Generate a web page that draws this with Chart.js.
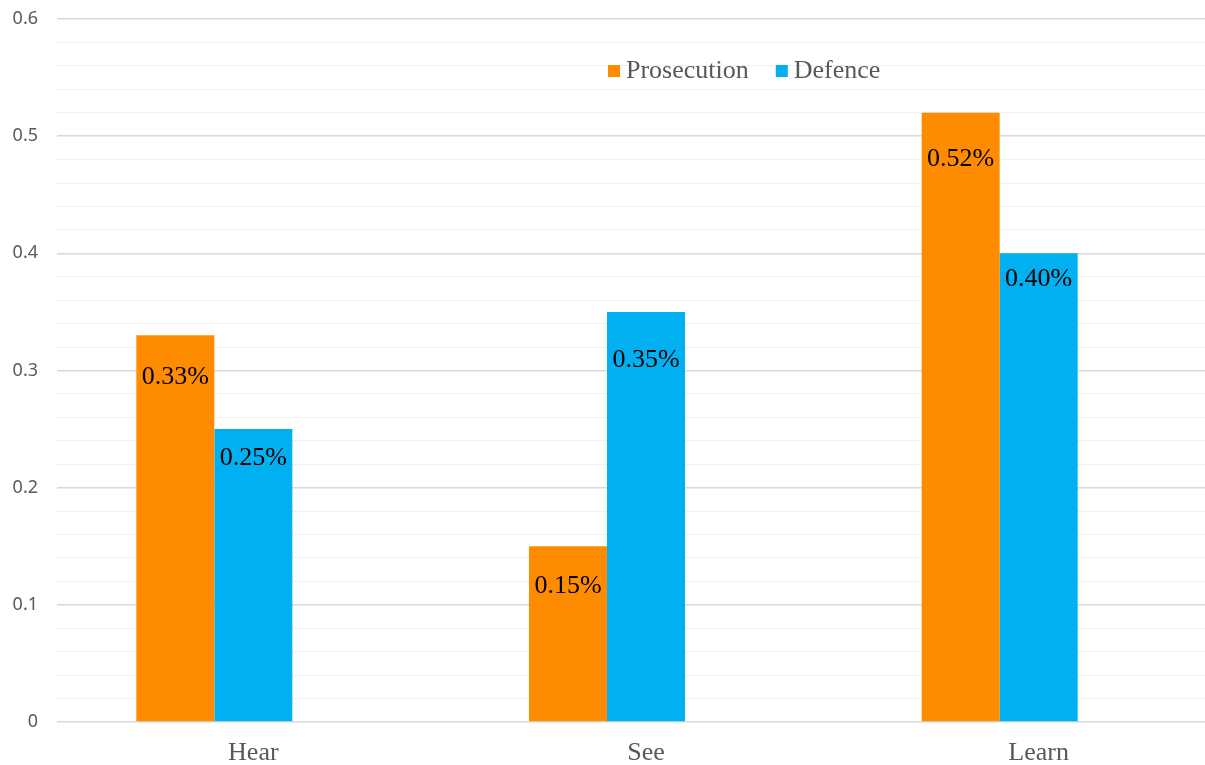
<!DOCTYPE html>
<html>
<head>
<meta charset="utf-8">
<script src="https://cdn.jsdelivr.net/npm/chart.js@4.4.1/dist/chart.umd.min.js"></script>
<style>
    html, body {
        margin: 0;
        padding: 0;
        background: #ffffff;
        overflow: hidden;
    }
</style>
</head>
<body>
<canvas id="grafico" width="1240" height="765"></canvas>
<script>

const categorias = ["Hear", "See", "Learn"];

const prosecucion = [0.33, 0.15, 0.52];

const defensa = [0.25, 0.35, 0.40];

// serie vacía: deja el hueco a la derecha de cada grupo
const vacia = [null, null, null];

const marcasY = [0, 0.1, 0.2, 0.3, 0.4, 0.5, 0.6];

// desplazamiento vertical de cada etiqueta respecto al tope de la barra
const desplazamientos = [
    [42, 40, 46],
    [29, 48, 26]
];

const colores = ["#FF8C00", "#00B0F0"];


const etiquetasBarras = {

    id: "etiquetasBarras",

    afterDatasetsDraw(chart) {

        const ctx = chart.ctx;

        ctx.save();
        ctx.font = "26px 'Liberation Serif'";
        ctx.fillStyle = "#000000";
        ctx.textAlign = "center";
        ctx.textBaseline = "middle";

        [0, 1].forEach(d => {

            const meta = chart.getDatasetMeta(d);
            const valores = chart.data.datasets[d].data;

            meta.data.forEach((barra, i) => {

                ctx.fillText(
                    valores[i].toFixed(2) + "%",
                    barra.x,
                    barra.y + desplazamientos[d][i]
                );
            });
        });

        ctx.restore();
    }
};


const leyenda = {

    id: "leyenda",

    afterDraw(chart) {

        const ctx = chart.ctx;

        ctx.save();
        ctx.font = "26px 'Liberation Serif'";
        ctx.textBaseline = "middle";

        let x = 608;
        const y = 71;

        chart.data.datasets.slice(0, 2).forEach(ds => {

            ctx.fillStyle = ds.backgroundColor;
            ctx.fillRect(x, y - 6, 12, 12);

            ctx.fillStyle = "#595959";
            ctx.fillText(ds.label, x + 18, y);

            x += 18 + ctx.measureText(ds.label).width + 27;
        });

        ctx.restore();
    }
};


new Chart(document.getElementById("grafico"), {

    type: "bar",

    data: {

        labels: categorias,

        datasets: [
            {
                label: "Prosecution",
                data: prosecucion,
                backgroundColor: colores[0]
            },
            {
                label: "Defence",
                data: defensa,
                backgroundColor: colores[1]
            },
            {
                label: "",
                data: vacia,
                backgroundColor: "rgba(0,0,0,0)"
            }
        ]
    },

    options: {

        responsive: false,
        animation: false,
        devicePixelRatio: 1,

        categoryPercentage: 0.596,
        barPercentage: 1,

        layout: {
            padding: {
                top: 19,
                right: 5,
                bottom: 0,
                left: 0
            }
        },

        plugins: {
            legend: {
                display: false
            },
            tooltip: {
                enabled: false
            }
        },

        scales: {

            x: {

                grid: {
                    display: false
                },

                border: {
                    display: false
                },

                ticks: {
                    color: "#595959",
                    padding: 8,
                    font: {
                        family: "Liberation Serif",
                        size: 26
                    }
                },

                afterFit(scale) {
                    scale.height = 43;
                }
            },

            y: {

                min: 0,
                max: 0.6,

                border: {
                    display: false
                },

                grid: {
                    drawTicks: false,
                    color: c => {
                        const v = Math.round(c.tick.value * 100);
                        return v % 10 === 0 ? "#d9d9d9" : "#f0f0f0";
                    },
                    lineWidth: c => {
                        const v = Math.round(c.tick.value * 100);
                        return v % 10 === 0 ? 1.5 : 1;
                    }
                },

                ticks: {
                    stepSize: 0.02,
                    autoSkip: false,
                    color: "#595959",
                    padding: 19,
                    font: {
                        family: "Noto Sans",
                        size: 18
                    },
                    callback: valor => {
                        const marca = marcasY.find(
                            m => Math.abs(m - valor) < 1e-6
                        );
                        return marca === undefined ? "" : String(marca);
                    }
                },

                afterFit(scale) {
                    scale.width = 57;
                    scale.paddingTop = 0;
                    scale.paddingBottom = 0;
                }
            }
        }
    },

    plugins: [etiquetasBarras, leyenda]
});

</script>
</body>
</html>
